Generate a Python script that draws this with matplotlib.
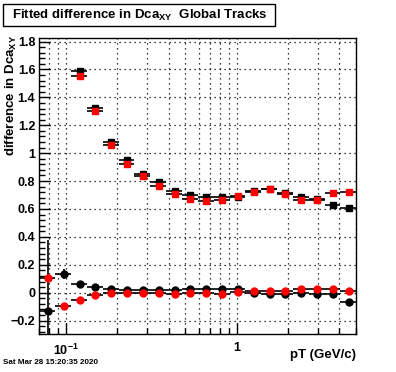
import numpy as np
import matplotlib
matplotlib.use("Agg")
import matplotlib.pyplot as plt
from matplotlib.patches import Rectangle
from matplotlib.ticker import FixedLocator, LogLocator, NullFormatter, MultipleLocator

plt.rcParams['font.family'] = ['Liberation Sans', 'DejaVu Sans']
plt.rcParams['font.weight'] = 'bold'
plt.rcParams['mathtext.fontset'] = 'custom'
plt.rcParams['mathtext.rm'] = 'Liberation Sans:bold'
plt.rcParams['mathtext.bf'] = 'Liberation Sans:bold'
plt.rcParams['mathtext.it'] = 'Liberation Sans:bold'

# pT bin edges (GeV/c), log binning
pt_edges = [0.0700, 0.0867, 0.1073, 0.1329, 0.1645, 0.2037, 0.2521, 0.3122,
            0.3865, 0.4785, 0.5925, 0.7335, 0.9082, 1.1244, 1.3921, 1.7236,
            2.1340, 2.6421, 3.2712, 4.0501, 5.0000]

# upper series (squares), first two bins empty
sq_black = [np.nan, np.nan, 1.586, 1.326, 1.083, 0.949, 0.854, 0.790, 0.731, 0.697,
            0.684, 0.686, 0.688, 0.731, 0.746, 0.718, 0.688, 0.668, 0.631, 0.607]
sq_red = [np.nan, np.nan, 1.551, 1.305, 1.058, 0.924, 0.834, 0.763, 0.710, 0.674,
          0.659, 0.666, 0.691, 0.725, 0.740, 0.710, 0.665, 0.665, 0.717, 0.723]
sq_red_err = [0, 0, 0.005, 0.005, 0.005, 0.005, 0.005, 0.005, 0.005, 0.005,
              0.005, 0.005, 0.005, 0.005, 0.005, 0.005, 0.005, 0.005, 0.01, 0.015]

# lower series (circles)
ci_black = [-0.131, 0.136, 0.062, 0.041, 0.024, 0.019, 0.019, 0.019, 0.019, 0.026,
            0.026, 0.026, 0.024, -0.005, -0.007, -0.007, -0.005, -0.007, -0.007, -0.064]
ci_black_err = [0.508, 0.035, 0.008, 0.006, 0.005, 0.005, 0.005, 0.005, 0.005, 0.005,
                0.005, 0.005, 0.005, 0.005, 0.005, 0.005, 0.005, 0.005, 0.008, 0.02]
ci_red = [0.103, -0.095, -0.055, -0.019, -0.002, -0.002, -0.005, -0.005, -0.012, -0.002,
          -0.005, -0.007, 0.005, 0.015, 0.015, 0.015, 0.026, 0.026, 0.026, 0.012]

edges = np.array(pt_edges)
x = 0.5 * (edges[1:] + edges[:-1])
xerr = 0.5 * (edges[1:] - edges[:-1])

fig = plt.figure(figsize=(3.96, 3.72), dpi=100)
ax = fig.add_axes([0.0997, 0.1022, 0.899 - 0.0997, 0.898 - 0.1022])

# squares
ax.errorbar(x, sq_black, xerr=xerr, fmt='s', color='black', ecolor='black',
            ms=4.4, elinewidth=1.2, capsize=0, zorder=3)
ax.errorbar(x, sq_red, xerr=xerr, yerr=sq_red_err, fmt='s', color='red', ecolor='black',
            ms=4.4, elinewidth=1.2, capsize=0, zorder=4)
# circles
ax.errorbar(x, ci_black, xerr=xerr, yerr=ci_black_err, fmt='o', color='black', ecolor='black',
            ms=5.0, elinewidth=1.2, capsize=0, zorder=3)
ax.errorbar(x, ci_red, xerr=xerr, fmt='o', color='red', ecolor='black',
            ms=5.0, elinewidth=1.2, capsize=0, zorder=4)

ax.set_xscale('log')
ax.set_xlim(0.07, 5.0)
ax.set_ylim(-0.296, 1.826)

# ticks
ax.xaxis.set_major_locator(FixedLocator([0.1, 1]))
ax.set_xticklabels([r'$10^{-1}$', '1'])
ax.xaxis.set_minor_locator(LogLocator(subs=range(2, 10)))
ax.xaxis.set_minor_formatter(NullFormatter())
ax.yaxis.set_major_locator(MultipleLocator(0.2))
ax.yaxis.set_minor_locator(MultipleLocator(0.04))
ax.yaxis.set_major_formatter(plt.FuncFormatter(lambda v, p: ('%g' % round(v, 2)).replace('-', '\u2212')))
ax.tick_params(which='both', direction='in', top=False, right=False, labelsize=9, width=1)
ax.tick_params(which='major', length=8, pad=3)
ax.tick_params(which='minor', length=4)
ax.tick_params(axis='x', which='major', pad=6)

# grid
ax.grid(True, which='major', axis='y', color='black', linestyle=(0, (1, 3)), linewidth=0.9)
ax.grid(True, which='both', axis='x', color='black', linestyle=(0, (1, 3)), linewidth=0.9)
for s in ax.spines.values():
    s.set_linewidth(1)

# labels
fig.text(0.03, 0.905, r'difference in Dca$_{XY}$', rotation=90, ha='center', va='top', fontsize=9.5)
fig.text(0.899, 0.03, 'pT (GeV/c)', ha='right', va='bottom', fontsize=9.5)
fig.text(0.008, 0.015, 'Sat Mar 28 15:20:35 2020', ha='left', va='bottom', fontsize=5.8)

# title box
fig.add_artist(Rectangle((3 / 396, 1 - 26 / 372), 272 / 396, 22 / 372, transform=fig.transFigure,
                         facecolor='white', edgecolor='black', linewidth=1))
fig.text(12 / 396, 1 - 15 / 372, r'Fitted difference in Dca$_{XY}$  Global Tracks',
         ha='left', va='center', fontsize=9.5)

fig.savefig('out.png', dpi=100)
